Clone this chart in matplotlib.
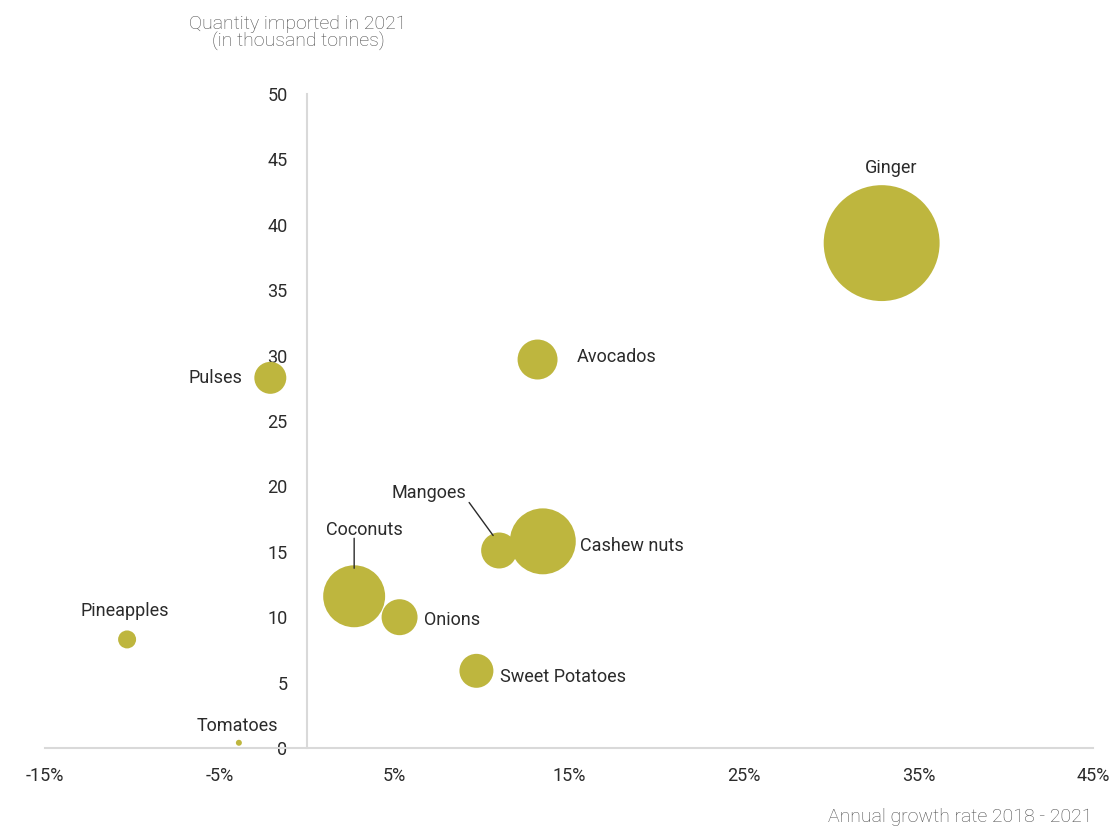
import matplotlib

matplotlib.use("Agg")
import matplotlib.pyplot as plt
from matplotlib.ticker import FuncFormatter
from matplotlib.transforms import offset_copy

plt.rcParams["font.family"] = ["Roboto", "DejaVu Sans"]

PRODUCTS = ["Ginger", "Avocados", "Pulses", "Mangoes", "Cashew nuts",
            "Coconuts", "Onions", "Sweet Potatoes", "Pineapples", "Tomatoes"]
GROWTH = [32.9, 13.2, -2.1, 11.0, 13.5, 2.7, 5.3, 9.7, -10.3, -3.9]
QUANTITY = [38.6, 29.7, 28.3, 15.1, 15.8, 11.6, 10.0, 5.9, 8.3, 0.4]
# bubble area (relative)
BUBBLE = [3364, 400, 256, 324, 1089, 961, 324, 289, 81, 9]

X_TICKS = [-15, -5, 5, 15, 25, 35, 45]
Y_TICKS = list(range(0, 51, 5))

COLOR = "#beb63e"
TEXT = "#2b2b2b"
GRID = "#d9d9d9"

# label offsets in pixels from bubble centre: (dx, dy, ha)
LABELS = {
    "Ginger": (9, 75, "center"),
    "Avocados": (39, 3, "left"),
    "Pulses": (-28, 0, "right"),
    "Mangoes": (-70, 57, "center"),
    "Cashew nuts": (37, -5, "left"),
    "Coconuts": (10, 66, "center"),
    "Onions": (24, -3, "left"),
    "Sweet Potatoes": (24, -6, "left"),
    "Pineapples": (-2, 28, "center"),
    "Tomatoes": (-2, 17, "center"),
}
# leader lines (start offset, end offset) in pixels from bubble centre
LEADERS = {
    "Mangoes": ((-30, 48), (-6, 15)),
    "Coconuts": ((0, 58), (0, 28)),
}


def main():
    fig = plt.figure(figsize=(11.2, 8.27), dpi=100)
    ax = fig.add_axes([45 / 1120, 79 / 827, 1048 / 1120, 654 / 827])

    sizes = [b * 2.07 for b in BUBBLE]
    ax.scatter(GROWTH, QUANTITY, s=sizes, color=COLOR, edgecolors="none",
               zorder=3)

    for name, x, y in zip(PRODUCTS, GROWTH, QUANTITY):
        dx, dy, ha = LABELS[name]
        ax.annotate(name, (x, y), xytext=(dx, dy), textcoords="offset pixels",
                    ha=ha, va="center", fontsize=13, color=TEXT, zorder=4)
        if name in LEADERS:
            (x0, y0), (x1, y1) = LEADERS[name]
            start = offset_copy(ax.transData, fig=fig, x=x0, y=y0, units="dots")
            end = offset_copy(ax.transData, fig=fig, x=x1, y=y1, units="dots")
            ax.annotate("", xy=(x, y), xycoords=end, xytext=(x, y),
                        textcoords=start,
                        arrowprops=dict(arrowstyle="-", color=TEXT, lw=1,
                                        shrinkA=0, shrinkB=0),
                        zorder=4)

    ax.set_xlim(-15, 45)
    ax.set_ylim(0, 50)
    ax.set_xticks(X_TICKS)
    ax.set_yticks(Y_TICKS)
    ax.xaxis.set_major_formatter(FuncFormatter(lambda v, _: f"{v:.0f}%"))
    ax.tick_params(length=0, labelsize=13, colors=TEXT, pad=14)
    ax.tick_params(axis="y", pad=14)

    for s in ("top", "right"):
        ax.spines[s].set_visible(False)
    ax.spines["left"].set_position(("data", 0))
    ax.spines["bottom"].set_position(("data", 0))
    for s in ("left", "bottom"):
        ax.spines[s].set_color(GRID)
        ax.spines[s].set_linewidth(1.5)

    fig.text(298 / 1120, 1 - 33 / 827, "Quantity imported in 2021\n(in thousand tonnes)",
             ha="center", va="center", fontsize=14, color="#4a4a4a",
             fontweight="light", linespacing=0.95)
    fig.text(1093 / 1120, 1 - 817 / 827, "Annual growth rate 2018 - 2021",
             ha="right", va="center", fontsize=14, color="#4a4a4a",
             fontweight="light")

    fig.savefig("out.png", dpi=100)


if __name__ == "__main__":
    main()
